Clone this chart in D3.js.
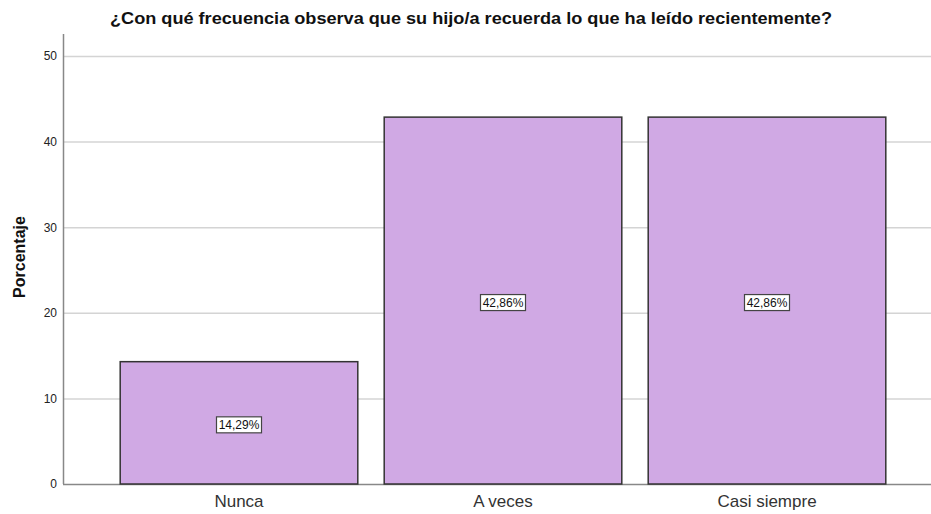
<!DOCTYPE html>
<html>
<head>
<meta charset="utf-8">
<script src="https://cdn.jsdelivr.net/npm/d3@7"></script>
<style>
body{margin:0;background:#fff;}
svg{display:block;font-family:Arial,"Liberation Sans",sans-serif;}
</style>
</head>
<body>
<svg id="svg" width="931" height="514"></svg>
<script>
var categories=['Nunca','A veces','Casi siempre'];
var percentages=[14.29,42.86,42.86];
var yticks=[0,10,20,30,40,50];

var svg=d3.select("#svg");

var xscale=d3.scaleBand()
.domain(categories)
.range([107,899])
.paddingInner(0.1)
.paddingOuter(0.05);

var yscale=d3.scaleLinear()
.domain([0,50])
.range([484,56]);

// title
svg.append("text")
.attr("x",471).attr("y",24)
.attr("text-anchor","middle")
.attr("textLength",722).attr("lengthAdjust","spacingAndGlyphs")
.style("font-size","16px").style("font-weight","bold").attr("fill","#111")
.text("¿Con qué frecuencia observa que su hijo/a recuerda lo que ha leído recientemente?");

// gridlines
svg.append("g").selectAll("line").data(yticks.filter(function(d){return d>0})).enter()
.append("line")
.attr("x1",63).attr("x2",931)
.attr("y1",function(d){return yscale(d)+0.5})
.attr("y2",function(d){return yscale(d)+0.5})
.attr("stroke","#d4d4d4").attr("stroke-width",1.5);

// y axis
var yaxis=svg.append("g")
.attr("transform","translate(63,0)")
.call(d3.axisLeft(yscale).tickValues(yticks).tickSize(0).tickPadding(6));
yaxis.select(".domain").remove();
yaxis.selectAll("text").style("font-size","12px").attr("fill","#222").style("font-family","Arial, 'Liberation Sans', sans-serif");

svg.append("line")
.attr("x1",63.5).attr("x2",63.5).attr("y1",34).attr("y2",yscale(0))
.attr("stroke","#888").attr("stroke-width",1.5);
svg.append("line")
.attr("x1",63).attr("x2",931).attr("y1",yscale(0)+0.5).attr("y2",yscale(0)+0.5)
.attr("stroke","#888").attr("stroke-width",1.5);

// y title
svg.append("text")
.attr("transform","translate(25,257) rotate(-90)")
.attr("text-anchor","middle")
.style("font-size","16px").style("font-weight","bold").attr("fill","#111")
.text("Porcentaje");

// bars
var rows=categories.map(function(c,i){return {cat:c,val:percentages[i]}});

svg.append("g").selectAll("rect").data(rows).enter()
.append("rect")
.attr("x",function(d){return xscale(d.cat)})
.attr("y",function(d){return yscale(d.val)})
.attr("width",xscale.bandwidth())
.attr("height",function(d){return yscale(0)-yscale(d.val)})
.attr("fill","#d0a9e4")
.attr("stroke","#333").attr("stroke-width",1.5);

// value labels
var lab=svg.append("g").selectAll("g").data(rows).enter()
.append("g")
.attr("transform",function(d){
	return "translate("+(xscale(d.cat)+xscale.bandwidth()/2)+","+((yscale(d.val)+yscale(0))/2+2)+")";
});
lab.append("rect")
.attr("x",-22.5).attr("y",-8).attr("width",45).attr("height",16)
.attr("fill","#fff").attr("stroke","#444").attr("stroke-width",1.2);
lab.append("text")
.attr("text-anchor","middle").attr("dy","0.36em")
.style("font-size","12px").attr("fill","#111")
.text(function(d){return d.val.toFixed(2).replace(".",",")+"%"});

// x axis labels
var xaxis=svg.append("g")
.attr("transform","translate(0,"+yscale(0)+")")
.call(d3.axisBottom(xscale).tickSize(0).tickPadding(11));
xaxis.select(".domain").remove();
xaxis.selectAll("text").style("font-size","17px").attr("fill","#333").style("font-family","Arial, 'Liberation Sans', sans-serif");
</script>
</body>
</html>
